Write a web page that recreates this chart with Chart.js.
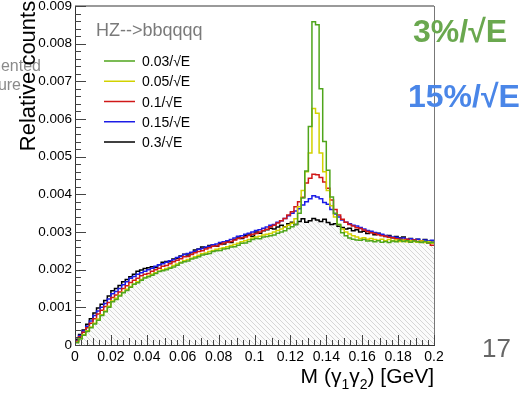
<!DOCTYPE html>
<html><head><meta charset="utf-8">
<script src="https://cdn.jsdelivr.net/npm/chart.js@4"></script>
<style>html,body{margin:0;padding:0;background:#fff;overflow:hidden}</style>
</head><body>
<canvas id="c" width="526" height="394"></canvas>
<script>
// ---------- data ----------
const binWidth = 0.002; // GeV, 100 bins from 0 to 0.2
const seriesLabels = ['0.03/\u221AE', '0.05/\u221AE', '0.1/\u221AE', '0.15/\u221AE', '0.3/\u221AE'];
const seriesColors = ['#4fa51c', '#d2d200', '#d01818', '#1c1ce6', '#000000'];

const res003 = [
0.00006,0.00016,0.00026,0.00036,0.00046,0.00056,0.00066,0.00078,0.00088,0.00100,
0.00115,0.00121,0.00130,0.00139,0.00145,0.00153,0.00161,0.00165,0.00172,0.00178,
0.00181,0.00185,0.00190,0.00195,0.00197,0.00200,0.00204,0.00207,0.00212,0.00218,
0.00221,0.00223,0.00228,0.00231,0.00234,0.00239,0.00241,0.00243,0.00248,0.00250,
0.00251,0.00255,0.00256,0.00260,0.00261,0.00265,0.00270,0.00271,0.00275,0.00280,
0.00283,0.00282,0.00287,0.00288,0.00290,0.00292,0.00297,0.00300,0.00303,0.00309,
0.00314,0.00320,0.00350,0.00390,0.00462,0.00580,0.00858,0.00850,0.00680,0.00540,
0.00464,0.00393,0.00350,0.00320,0.00298,0.00290,0.00284,0.00281,0.00279,0.00278,
0.00280,0.00276,0.00277,0.00274,0.00277,0.00273,0.00275,0.00272,0.00276,0.00274,
0.00278,0.00275,0.00277,0.00273,0.00276,0.00274,0.00272,0.00275,0.00271,0.00272];

const res005 = [
0.00007,0.00018,0.00028,0.00038,0.00048,0.00058,0.00069,0.00080,0.00090,0.00103,
0.00117,0.00124,0.00132,0.00140,0.00148,0.00155,0.00162,0.00168,0.00174,0.00179,
0.00183,0.00188,0.00192,0.00196,0.00200,0.00203,0.00206,0.00211,0.00215,0.00220,
0.00224,0.00227,0.00230,0.00234,0.00238,0.00242,0.00244,0.00248,0.00251,0.00254,
0.00256,0.00258,0.00261,0.00264,0.00267,0.00270,0.00274,0.00277,0.00280,0.00284,
0.00287,0.00289,0.00292,0.00294,0.00296,0.00300,0.00304,0.00308,0.00313,0.00318,
0.00323,0.00335,0.00367,0.00410,0.00460,0.00510,0.00628,0.00615,0.00510,0.00460,
0.00410,0.00370,0.00340,0.00320,0.00308,0.00300,0.00295,0.00290,0.00287,0.00283,
0.00285,0.00281,0.00283,0.00280,0.00278,0.00281,0.00277,0.00280,0.00276,0.00279,
0.00275,0.00278,0.00274,0.00277,0.00275,0.00273,0.00276,0.00272,0.00274,0.00270];

const res010 = [
0.00010,0.00022,0.00034,0.00046,0.00058,0.00070,0.00082,0.00092,0.00102,0.00113,
0.00126,0.00133,0.00141,0.00150,0.00157,0.00166,0.00172,0.00177,0.00184,0.00188,
0.00190,0.00196,0.00200,0.00204,0.00209,0.00211,0.00216,0.00221,0.00225,0.00229,
0.00234,0.00235,0.00240,0.00245,0.00248,0.00250,0.00255,0.00258,0.00262,0.00263,
0.00267,0.00271,0.00273,0.00275,0.00279,0.00283,0.00285,0.00287,0.00291,0.00294,
0.00296,0.00300,0.00304,0.00307,0.00314,0.00318,0.00324,0.00330,0.00336,0.00345,
0.00354,0.00367,0.00380,0.00392,0.00430,0.00443,0.00453,0.00452,0.00445,0.00433,
0.00416,0.00385,0.00360,0.00345,0.00334,0.00326,0.00320,0.00316,0.00311,0.00309,
0.00305,0.00301,0.00298,0.00296,0.00293,0.00290,0.00289,0.00286,0.00285,0.00282,
0.00281,0.00279,0.00281,0.00277,0.00279,0.00275,0.00277,0.00273,0.00271,0.00265];

const res015 = [
0.00012,0.00025,0.00037,0.00050,0.00064,0.00078,0.00090,0.00100,0.00110,0.00122,
0.00136,0.00142,0.00150,0.00160,0.00168,0.00177,0.00182,0.00188,0.00192,0.00196,
0.00200,0.00204,0.00209,0.00213,0.00216,0.00220,0.00224,0.00226,0.00232,0.00235,
0.00240,0.00243,0.00246,0.00249,0.00254,0.00256,0.00260,0.00262,0.00266,0.00268,
0.00272,0.00274,0.00277,0.00280,0.00284,0.00289,0.00290,0.00294,0.00297,0.00300,
0.00304,0.00306,0.00310,0.00313,0.00318,0.00320,0.00326,0.00330,0.00336,0.00343,
0.00350,0.00356,0.00362,0.00372,0.00380,0.00388,0.00396,0.00393,0.00388,0.00378,
0.00374,0.00360,0.00348,0.00340,0.00332,0.00326,0.00322,0.00318,0.00316,0.00312,
0.00308,0.00304,0.00302,0.00299,0.00296,0.00294,0.00291,0.00289,0.00287,0.00286,
0.00283,0.00284,0.00280,0.00282,0.00279,0.00281,0.00277,0.00279,0.00276,0.00278];

const res030 = [
0.00015,0.00028,0.00040,0.00055,0.00070,0.00085,0.00098,0.00108,0.00118,0.00130,
0.00144,0.00150,0.00158,0.00168,0.00174,0.00181,0.00188,0.00196,0.00199,0.00203,
0.00205,0.00208,0.00206,0.00213,0.00220,0.00222,0.00221,0.00228,0.00230,0.00236,
0.00241,0.00239,0.00245,0.00252,0.00255,0.00260,0.00258,0.00264,0.00266,0.00262,
0.00270,0.00268,0.00275,0.00272,0.00280,0.00287,0.00283,0.00290,0.00295,0.00289,
0.00300,0.00297,0.00303,0.00306,0.00310,0.00308,0.00313,0.00318,0.00314,0.00322,
0.00326,0.00320,0.00328,0.00335,0.00326,0.00330,0.00336,0.00332,0.00328,0.00334,
0.00325,0.00320,0.00322,0.00315,0.00312,0.00308,0.00310,0.00303,0.00306,0.00300,
0.00302,0.00296,0.00299,0.00293,0.00297,0.00292,0.00288,0.00291,0.00285,0.00288,
0.00284,0.00287,0.00280,0.00283,0.00278,0.00281,0.00276,0.00280,0.00275,0.00277];

const xTickLabels = ['0','0.02','0.04','0.06','0.08','0.1','0.12','0.14','0.16','0.18','0.2'];
const yTickLabels = ['0','0.001','0.002','0.003','0.004','0.005','0.006','0.007','0.008','0.009'];

// ---------- rendering ----------
const FONT = '"Liberation Sans", Arial, Helvetica, sans-serif';
const allSeries = [res003, res005, res010, res015, res030];

function histPoints(arr) {
  const pts = arr.map((v, i) => ({ x: i * binWidth, y: v }));
  pts.push({ x: arr.length * binWidth, y: arr[arr.length - 1] });
  return pts;
}
const envelope = res003.map((_, i) => Math.min(...allSeries.map(s => s[i])));

const canvas = document.getElementById('c');
const ctx0 = canvas.getContext('2d');
const pc = document.createElement('canvas');
pc.width = 5; pc.height = 5;
const pg = pc.getContext('2d');
pg.fillStyle = '#fbfbfb'; pg.fillRect(0, 0, 5, 5);
pg.strokeStyle = '#d6d6d6'; pg.lineWidth = 1;
pg.beginPath(); pg.moveTo(-1, -1); pg.lineTo(6, 6); pg.stroke();
const hatch = ctx0.createPattern(pc, 'repeat');

const datasets = allSeries.map((arr, i) => ({
  label: seriesLabels[i],
  data: histPoints(arr),
  borderColor: seriesColors[i],
  borderWidth: 1.5,
  stepped: true,
  pointRadius: 0,
  fill: false,
  order: i
}));
datasets.push({
  label: 'envelope',
  data: histPoints(envelope),
  borderWidth: 0,
  borderColor: 'rgba(0,0,0,0)',
  backgroundColor: hatch,
  stepped: true,
  pointRadius: 0,
  fill: 'origin',
  order: 10
});

function text(ctx, s, x, y, font, color, align, base) {
  ctx.font = font; ctx.fillStyle = color;
  ctx.textAlign = align || 'left'; ctx.textBaseline = base || 'alphabetic';
  ctx.fillText(s, x, y);
}

const decor = {
  id: 'decor',
  beforeDraw(chart) {
    const ctx = chart.ctx;
    ctx.save();
    text(ctx, 'mented', 41, 71, '16px ' + FONT, '#8a8a8a', 'right');
    text(ctx, 'ure', 21, 90, '16px ' + FONT, '#8a8a8a', 'right');
    ctx.restore();
  },
  afterDraw(chart) {
    const { ctx, chartArea: a, scales: { x, y } } = chart;
    ctx.save();
    // frame
    ctx.strokeStyle = '#9a9a9a'; ctx.lineWidth = 2;
    ctx.beginPath(); ctx.moveTo(a.left, a.top); ctx.lineTo(a.right, a.top); ctx.stroke();
    ctx.strokeStyle = '#777'; ctx.lineWidth = 1;
    ctx.beginPath(); ctx.moveTo(a.right + 0.5, a.top); ctx.lineTo(a.right + 0.5, a.bottom); ctx.stroke();
    ctx.strokeStyle = '#333';
    ctx.beginPath(); ctx.moveTo(a.left + 0.5, a.top); ctx.lineTo(a.left + 0.5, a.bottom + 0.5); ctx.lineTo(a.right + 1, a.bottom + 0.5); ctx.stroke();
    // inward ticks
    ctx.strokeStyle = '#444';
    ctx.beginPath();
    for (let i = 0; i <= 45; i++) {
      const py = Math.round(y.getPixelForValue(i * 0.0002)) + 0.5;
      const len = i % 5 === 0 ? 11 : 6;
      ctx.moveTo(a.left, py); ctx.lineTo(a.left + len, py);
    }
    for (let i = 0; i <= 60; i++) {
      const px = Math.round(x.getPixelForValue(i * 0.2 / 60)) + 0.5;
      const len = i % 6 === 0 ? 10 : (i % 3 === 0 ? 7 : 5);
      ctx.moveTo(px, a.bottom); ctx.lineTo(px, a.bottom - len);
    }
    ctx.stroke();

    // axis titles
    ctx.save();
    ctx.translate(35, 76); ctx.rotate(-Math.PI / 2);
    text(ctx, 'Relative counts', 0, 0, '22px ' + FONT, '#000', 'center');
    ctx.restore();
    const parts = [['M (', 21, 0], ['\u03B3', 21, 0], ['1', 14, 6], ['\u03B3', 21, 0], ['2', 14, 6], [') [GeV]', 21, 0]];
    let tw = 0;
    parts.forEach(p => { ctx.font = p[1] + 'px ' + FONT; tw += ctx.measureText(p[0]).width; });
    let cx = a.right - tw;
    parts.forEach(p => {
      text(ctx, p[0], cx, 383 + p[2], p[1] + 'px ' + FONT, '#000', 'left');
      ctx.font = p[1] + 'px ' + FONT; cx += ctx.measureText(p[0]).width;
    });

    // legend
    text(ctx, 'HZ-->bbqqqq', 96, 36, '18px ' + FONT, '#7a7a7a', 'left');
    chart.data.datasets.slice(0, 5).forEach((ds, i) => {
      const ly = 61 + i * 20.25;
      ctx.strokeStyle = ds.borderColor; ctx.lineWidth = 1.5;
      ctx.beginPath(); ctx.moveTo(104, ly); ctx.lineTo(135, ly); ctx.stroke();
      text(ctx, ds.label, 142, ly + 5, '14px ' + FONT, '#000', 'left');
    });

    // slide annotations
    text(ctx, '3%/\u221AE', 413, 42, 'bold 32px ' + FONT, '#6aa84f', 'left');
    text(ctx, '15%/\u221AE', 408, 107, 'bold 32px ' + FONT, '#4a86e8', 'left');
    text(ctx, '17', 511, 357, '26px ' + FONT, '#666', 'right');
    ctx.restore();
  }
};

new Chart(canvas, {
  type: 'line',
  data: { datasets },
  options: {
    responsive: false,
    animation: false,
    devicePixelRatio: 1,
    layout: { padding: { top: 6, right: 92, left: 0, bottom: 0 } },
    plugins: { legend: { display: false }, tooltip: { enabled: false } },
    elements: { line: { tension: 0 } },
    scales: {
      x: {
        type: 'linear', min: 0, max: 0.2,
        grid: { display: false, drawTicks: false }, border: { display: false },
        ticks: { stepSize: 0.02, autoSkip: false, maxRotation: 0, padding: 4, color: '#000',
          font: { family: FONT, size: 14 }, callback: (v, i) => xTickLabels[i] },
        afterFit(s) { s.height = 49; s.paddingLeft = 0; s.paddingRight = 0; }
      },
      y: {
        type: 'linear', min: 0, max: 0.009,
        grid: { display: false, drawTicks: false }, border: { display: false },
        ticks: { stepSize: 0.001, autoSkip: false, padding: 3, color: '#000',
          font: { family: FONT, size: 13.5 }, callback: (v, i) => yTickLabels[i] },
        afterFit(s) { s.width = 75; s.paddingTop = 0; s.paddingBottom = 0; }
      }
    }
  },
  plugins: [decor]
});
</script>
</body></html>
